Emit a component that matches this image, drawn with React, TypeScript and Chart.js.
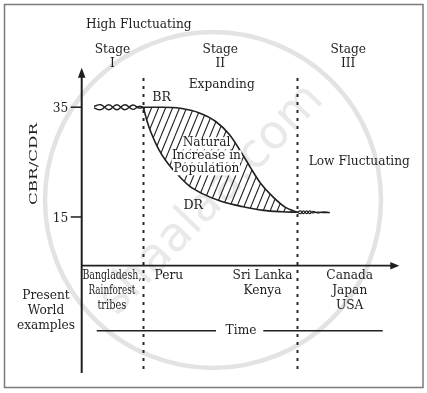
import React, { useEffect, useRef } from "react";
import { Chart, registerables } from "chart.js";

Chart.register(...registerables);

// ---- data ----
const yTicks = [15, 35];
const stageBounds = [2, 7];
const stageCenters = [1, 4.5, 8.65];
const stageNames = ["I", "II", "III"];

const brX = [2, 2.6, 3.2, 3.8, 4.35, 4.8, 5.2, 5.5, 5.8, 6.2, 6.6, 7];
const brY = [35, 35, 34.8, 34.0, 32.4, 30.0, 26.6, 23.8, 21.2, 18.7, 16.8, 15.85];

const drX = [2, 2.12, 2.25, 2.5, 2.75, 3.1, 3.5, 3.9, 4.5, 5.2, 5.9, 6.5, 7];
const drY = [35, 32.5, 30.4, 27.3, 25.1, 22.8, 20.6, 19.3, 17.9, 16.9, 16.2, 15.95, 15.85];

const waveLeftX = [0.4, 0.62, 0.88, 1.14, 1.4, 1.66, 1.86, 2.0];
const waveLeftA = [35.15, 35.45, 34.55, 35.45, 34.55, 35.4, 34.85, 35];
const waveLeftB = [34.85, 34.55, 35.45, 34.55, 35.45, 34.6, 35.15, 35];

const waveRightX = [7, 7.1, 7.2, 7.3, 7.4, 7.5, 7.65, 7.85, 8.05];
const waveRightA = [15.85, 16.1, 15.6, 16.1, 15.6, 16.0, 15.75, 15.95, 15.8];
const waveRightB = [15.85, 15.6, 16.1, 15.6, 16.1, 15.75, 15.9, 15.78, 15.8];

const exampleCenters = [0.98, 2.83, 5.87, 8.7];
const exampleLabels = [
  ["Bangladesh,", "Rainforest", "tribes"],
  ["Peru"],
  ["Sri Lanka", "Kenya"],
  ["Canada", "Japan", "USA"],
];
const exampleMaxW = [59, 0, 0, 0];
const exampleMaxW2 = [47, 0, 0, 0];
const exampleMaxW3 = [29, 0, 0, 0];
const regionTitle = "High Fluctuating";
const midTitle = "Expanding";
const lateTitle = "Low Fluctuating";
const gapLabel = ["Natural", "Increase in", "Population"];
const sideLabel = ["Present", "World", "examples"];
const yTitle = "CBR/CDR";
const xTitle = "Time";

const pts = (xs: number[], ys: number[]) => xs.map((x, i) => ({ x, y: ys[i] }));

const INK = "#1f1f1f";
const SERIF = '"DejaVu Serif", serif';

function text(ctx: CanvasRenderingContext2D, s: string, x: number, y: number, size = 12.2, align: CanvasTextAlign = "center", maxW = 0, bg = false) {
  ctx.save();
  ctx.font = `${size}px ${SERIF}`;
  ctx.textAlign = align;
  ctx.textBaseline = "middle";
  if (bg) {
    const w = ctx.measureText(s).width;
    ctx.fillStyle = "#ffffff";
    ctx.fillRect(x - w / 2 - 0.5, y - size * 0.5, w + 1, size * 1.0);
  }
  ctx.fillStyle = INK;
  if (maxW > 0) ctx.fillText(s, x, y, maxW);
  else ctx.fillText(s, x, y);
  ctx.restore();
}

const diagramPlugin = {
  id: "diagram",
  beforeDraw(chart: any) {
    const ctx = chart.ctx as CanvasRenderingContext2D;
    ctx.save();
    ctx.fillStyle = "#ffffff";
    ctx.fillRect(0, 0, chart.width, chart.height);
    // watermark
    ctx.strokeStyle = "#e3e3e3";
    ctx.lineWidth = 4.5;
    ctx.beginPath();
    ctx.arc(213, 200, 168, 0, Math.PI * 2);
    ctx.stroke();
    ctx.translate(212, 200);
    ctx.rotate((-46 * Math.PI) / 180);
    ctx.font = '60px "DejaVu Sans", sans-serif';
    const w = ctx.measureText("shaalaa.com").width;
    ctx.scale(300 / w, 300 / w);
    ctx.fillStyle = "#e9e9e9";
    ctx.textAlign = "center";
    ctx.textBaseline = "middle";
    ctx.fillText("shaalaa.com", 0, 0);
    ctx.restore();
    // frame
    ctx.save();
    ctx.strokeStyle = "#7a7a7a";
    ctx.lineWidth = 1.5;
    ctx.strokeRect(4.5, 4.5, 418.5, 383);
    ctx.restore();
  },
  beforeDatasetsDraw(chart: any) {
    const ctx = chart.ctx as CanvasRenderingContext2D;
    const xs = chart.scales.x;
    const ys = chart.scales.y;
    const { left, right, top, bottom } = chart.chartArea;
    ctx.save();
    // stage boundaries
    ctx.strokeStyle = "#2a2a2a";
    ctx.lineWidth = 2;
    ctx.setLineDash([3, 5]);
    stageBounds.forEach((b) => {
      const px = Math.round(xs.getPixelForValue(b)) + 0.5;
      ctx.beginPath();
      ctx.moveTo(px, 78);
      ctx.lineTo(px, 373);
      ctx.stroke();
    });
    ctx.setLineDash([]);
    // y axis
    ctx.strokeStyle = INK;
    ctx.fillStyle = INK;
    ctx.lineWidth = 2;
    ctx.beginPath();
    ctx.moveTo(left, top + 8);
    ctx.lineTo(left, 373);
    ctx.stroke();
    ctx.beginPath();
    ctx.moveTo(left, top);
    ctx.lineTo(left - 3.8, top + 10);
    ctx.lineTo(left + 3.8, top + 10);
    ctx.closePath();
    ctx.fill();
    // x axis
    ctx.lineWidth = 1.8;
    ctx.beginPath();
    ctx.moveTo(left, bottom);
    ctx.lineTo(right - 7, bottom);
    ctx.stroke();
    ctx.beginPath();
    ctx.moveTo(right, bottom);
    ctx.lineTo(right - 9, bottom - 3.8);
    ctx.lineTo(right - 9, bottom + 3.8);
    ctx.closePath();
    ctx.fill();
    // ticks
    ctx.lineWidth = 1.5;
    yTicks.forEach((t) => {
      const py = ys.getPixelForValue(t);
      ctx.beginPath();
      ctx.moveTo(left - 11, py);
      ctx.lineTo(left, py);
      ctx.stroke();
    });
    // time line
    ctx.lineWidth = 1.5;
    ctx.beginPath();
    ctx.moveTo(96.7, 330.7);
    ctx.lineTo(216, 330.7);
    ctx.moveTo(263.3, 330.7);
    ctx.lineTo(382.7, 330.7);
    ctx.stroke();
    ctx.restore();
  },
  afterDraw(chart: any) {
    const ctx = chart.ctx as CanvasRenderingContext2D;
    const xs = chart.scales.x;
    const ys = chart.scales.y;
    const { left, bottom } = chart.chartArea;
    yTicks.forEach((t) => text(ctx, String(t), left - 13.5, ys.getPixelForValue(t) + 1.5, 12.2, "right"));
    text(ctx, regionTitle, 86, 25, 12.2, "left");
    stageNames.forEach((n, i) => {
      const cx = xs.getPixelForValue(stageCenters[i]);
      text(ctx, "Stage", cx, 49.5);
      text(ctx, n, cx, 63.5);
    });
    text(ctx, midTitle, 221.7, 85);
    text(ctx, "BR", 161.7, 97.5, 12.6);
    gapLabel.forEach((s, i) => text(ctx, s, 206.5, 143.3 + i * 13, 12.2, "center", 0, true));
    text(ctx, "DR", 193.3, 206, 12.6);
    text(ctx, lateTitle, 359.3, 161.7);
    exampleLabels.forEach((col, i) => {
      const cx = xs.getPixelForValue(exampleCenters[i]);
      const mw = [exampleMaxW[i], exampleMaxW2[i], exampleMaxW3[i]];
      col.forEach((s, j) => text(ctx, s, cx, bottom + 10.5 + j * 15, 12.2, "center", mw[j]));
    });
    sideLabel.forEach((s, i) => text(ctx, s, 46, 295.7 + i * 15.2));
    text(ctx, xTitle, 241, 330.7);
    // rotated y title
    ctx.save();
    ctx.translate(34.5, 164);
    ctx.rotate(-Math.PI / 2);
    ctx.font = `11px ${SERIF}`;
    const w = ctx.measureText(yTitle).width;
    ctx.scale(82 / w, 1);
    ctx.fillStyle = INK;
    ctx.textAlign = "center";
    ctx.textBaseline = "middle";
    ctx.fillText(yTitle, 0, 0);
    ctx.restore();
  },
};

export default function App() {
  const ref = useRef<HTMLCanvasElement | null>(null);
  useEffect(() => {
    if (!ref.current) return;
    const tile = document.createElement("canvas");
    tile.width = 7;
    tile.height = 17;
    const tc = tile.getContext("2d")!;
    tc.strokeStyle = "#222";
    tc.lineWidth = 1.1;
    tc.beginPath();
    for (const off of [-7, 0, 7]) {
      tc.moveTo(off, 17);
      tc.lineTo(off + 7, 0);
    }
    tc.stroke();
    const hatch = (ref.current.getContext("2d") as CanvasRenderingContext2D).createPattern(tile, "repeat");

    const lineBase = { pointRadius: 0, borderColor: INK };
    const chart = new Chart(ref.current, {
      type: "line",
      data: {
        datasets: [
          { ...lineBase, data: pts(brX, brY), borderWidth: 1.6, cubicInterpolationMode: "monotone", fill: "+1", backgroundColor: hatch as any },
          { ...lineBase, data: pts(drX, drY), borderWidth: 1.6, cubicInterpolationMode: "monotone", fill: false },
          { ...lineBase, data: pts(waveLeftX, waveLeftA), borderWidth: 1.4, tension: 0.45, fill: false },
          { ...lineBase, data: pts(waveLeftX, waveLeftB), borderWidth: 1.4, tension: 0.45, fill: false },
          { ...lineBase, data: pts(waveRightX, waveRightA), borderWidth: 1.2, tension: 0.45, fill: false },
          { ...lineBase, data: pts(waveRightX, waveRightB), borderWidth: 1.2, tension: 0.45, fill: false },
        ] as any,
      },
      options: {
        animation: false,
        responsive: false,
        devicePixelRatio: 1,
        events: [],
        layout: { padding: { left: 81.7, right: 27.7, top: 67.7, bottom: 127.3 } },
        plugins: { legend: { display: false }, tooltip: { enabled: false } },
        scales: {
          x: { type: "linear", display: false, min: 0, max: 10.31 },
          y: { type: "linear", display: false, min: 6.12, max: 42.2 },
        },
      },
      plugins: [diagramPlugin],
    });
    return () => chart.destroy();
  }, []);
  return (
    <div style={{ position: "absolute", left: 0, top: 0, width: 427, height: 393 }}>
      <canvas ref={ref} width={427} height={393} style={{ width: 427, height: 393, display: "block" }} />
    </div>
  );
}
